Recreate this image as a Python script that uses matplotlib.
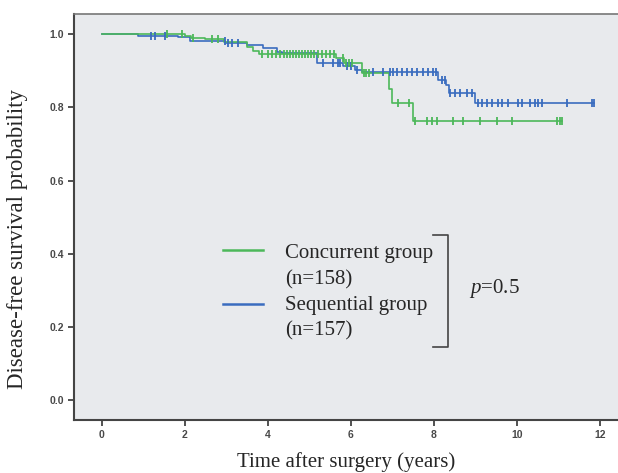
import matplotlib
matplotlib.use("Agg")
import matplotlib.pyplot as plt
import numpy as np

# ---- data ----
conc_times = [0, 2.0, 2.15, 2.5, 2.95, 3.5, 3.65, 3.8, 5.65, 5.85, 6.27, 6.93, 7.0, 7.5]
conc_surv = [1.0, 0.996, 0.991, 0.987, 0.979, 0.965, 0.955, 0.946, 0.935, 0.921, 0.893, 0.85, 0.812, 0.763]
conc_end = 11.08
conc_censor = [1.57, 1.93, 2.2, 2.66, 2.8,
               3.86, 4.01, 4.10, 4.20, 4.30, 4.39, 4.47, 4.54, 4.61, 4.68, 4.75, 4.83,
               4.90, 4.97, 5.04, 5.12, 5.21, 5.31, 5.41, 5.50, 5.60,
               5.81, 5.89, 5.96, 6.03, 6.32, 6.38, 6.45,
               7.14, 7.40, 7.56, 7.84, 7.96, 8.08, 8.47, 8.71, 9.12, 9.53, 9.89, 10.97, 11.05]

seq_times = [0, 0.88, 1.85, 2.13, 2.98, 3.5, 3.89, 4.23, 4.35, 5.19, 5.82, 6.1, 6.27, 8.1, 8.3, 8.36, 9.0]
seq_surv = [1.0, 0.996, 0.992, 0.983, 0.977, 0.971, 0.962, 0.952, 0.948, 0.921, 0.912, 0.902, 0.896,
            0.875, 0.861, 0.84, 0.811]
seq_end = 11.85
seq_censor = [1.20, 1.28, 1.52, 2.97, 3.05, 3.14, 3.29,
              5.33, 5.57, 5.69, 5.75, 5.9, 6.0, 6.15,
              6.54, 6.78, 6.95, 7.02, 7.12, 7.24, 7.36, 7.48, 7.60, 7.74, 7.87, 7.99, 8.06,
              8.2, 8.27, 8.39, 8.51, 8.63, 8.80, 8.92,
              9.07, 9.16, 9.28, 9.40, 9.55, 9.65, 9.79, 10.03, 10.13, 10.32, 10.44, 10.51, 10.61,
              11.21, 11.81]

x_ticks = [0, 2, 4, 6, 8, 10, 12]
y_ticks = [0.0, 0.2, 0.4, 0.6, 0.8, 1.0]
y_ticklabels = ["0.0", "0.2", "0.4", "0.6", "0.8", "1.0"]

legend_labels = ["Concurrent group", "(n=158)", "Sequential group", "(n=157)"]
p_label = "=0.5"

GREEN = "#4cb85a"
BLUE = "#3a6cbf"
SERIF = "Liberation Serif"
SANS = "Liberation Sans"
TXT = "#262626"

plt.rcParams["mathtext.fontset"] = "custom"
plt.rcParams["mathtext.it"] = "Liberation Serif:italic"
plt.rcParams["mathtext.rm"] = "Liberation Serif"

fig = plt.figure(figsize=(6.18, 4.73), dpi=100)
ax = fig.add_axes([74 / 618, 53 / 473, 544 / 618, 406 / 473])
ax.set_facecolor("#e8eaed")


def km(ax, times, surv, end, censor, color):
    t = list(times) + [end]
    s = list(surv) + [surv[-1]]
    ax.step(t, s, where="post", color=color, lw=1.2, zorder=3)
    ct = np.array(censor)
    idx = np.searchsorted(np.array(times), ct, side="right") - 1
    cs = np.array(surv)[idx]
    ax.plot(ct, cs, ls="none", marker="|", ms=5.5, mew=1.3, color=color, zorder=4)
    ax.plot([end], [surv[-1]], ls="none", marker="|", ms=5.5, mew=1.3, color=color, zorder=4)


km(ax, seq_times, seq_surv, seq_end, seq_censor, BLUE)
km(ax, conc_times, conc_surv, conc_end, conc_censor, GREEN)

ax.set_xlim(-0.667, 12.44)
ax.set_ylim(-0.0547, 1.0555)
ax.set_xticks(x_ticks)
ax.set_xticklabels([str(v) for v in x_ticks])
ax.set_yticks(y_ticks)
ax.set_yticklabels(y_ticklabels)
ax.tick_params(axis="both", direction="out", length=4, width=1.2, color="#333333",
               labelsize=7.5, labelcolor="#484848", pad=3)
for lab in ax.get_xticklabels() + ax.get_yticklabels():
    lab.set_fontfamily(SANS)
    lab.set_fontweight("bold")

for side in ["left", "bottom"]:
    ax.spines[side].set_color("#444444")
    ax.spines[side].set_linewidth(1.5)
ax.spines["top"].set_color("#777777")
ax.spines["top"].set_linewidth(1.2)
ax.spines["right"].set_visible(False)

ax.set_xlabel("Time after surgery (years)", fontfamily=SERIF, fontsize=15, color=TXT)
ax.set_ylabel("Disease-free survival probability", fontfamily=SERIF, fontsize=16.5, color=TXT)
ax.xaxis.set_label_coords(0.5, -0.079)
ax.yaxis.set_label_coords(-0.084, 0.446)

# ---- legend (manual, as in the reference) ----
T = ax.transAxes
ax.plot([0.274, 0.347], [0.419, 0.419], color=GREEN, lw=1.8, transform=T)
ax.plot([0.274, 0.347], [0.286, 0.286], color=BLUE, lw=1.8, transform=T)
for lbl, yy in zip(legend_labels, [0.411, 0.345, 0.283, 0.219]):
    ax.text(0.388, yy, lbl, transform=T, fontfamily=SERIF, fontsize=15, color=TXT,
            va="center", ha="left")
ax.plot([0.660, 0.688, 0.688, 0.660], [0.456, 0.456, 0.180, 0.180], color="#444444", lw=1.2,
        transform=T)
ax.text(0.726, 0.325, r"$\mathit{p}$" + p_label, transform=T, fontfamily=SERIF, fontsize=15,
        color=TXT, va="center", ha="left")

fig.savefig("out.png", dpi=100)
